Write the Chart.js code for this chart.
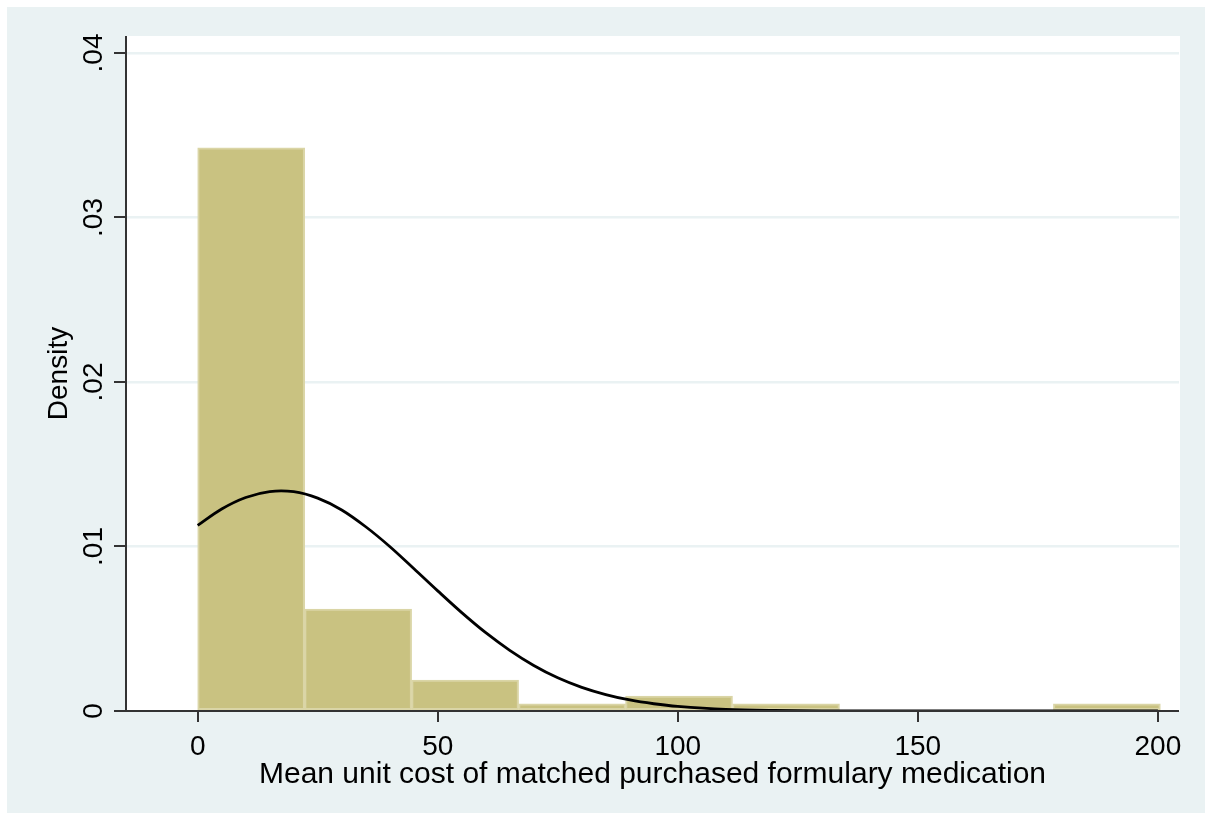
<!DOCTYPE html>
<html>
<head>
<meta charset="utf-8">
<script src="https://cdn.jsdelivr.net/npm/chart.js@4"></script>
<style>
  html, body { margin: 0; padding: 0; background: #ffffff; }
  canvas { display: block; }
</style>
</head>
<body>
<canvas id="c" width="1205" height="813"></canvas>
<script>
// ---- data ----
const binCenters = [11.14, 33.42, 55.70, 77.98, 100.26, 122.54, 144.82, 167.10, 189.38];
const densities  = [0.03423, 0.00620, 0.00188, 0.00043, 0.00091, 0.00043, 0, 0, 0.00043];

const curveX = [0, 5, 10, 15, 20, 25, 30, 35, 40, 45, 50, 55, 60, 65, 70, 75, 80, 85, 90, 95, 100, 110, 120, 130, 140, 160, 180, 200];
const curveY = [0.01128, 0.01228, 0.01298, 0.01334, 0.01333, 0.01294, 0.01222, 0.01120, 0.01000, 0.00866, 0.00730,
                0.00598, 0.00476, 0.00369, 0.00277, 0.00202, 0.00144, 0.00100, 0.00067, 0.00044, 0.00028,
                0.00010, 0.00003, 0.00001, 0, 0, 0, 0];

const xTicks = [0, 50, 100, 150, 200];
const xTickLabels = ['0', '50', '100', '150', '200'];
const yTicks = [0, 0.01, 0.02, 0.03, 0.04];
const yTickLabels = ['0', '.01', '.02', '.03', '.04'];

const xTitle = 'Mean unit cost of matched purchased formulary medication';
const yTitle = 'Density';

// ---- styling ----
const FONT = "'Liberation Sans', Arial, 'DejaVu Sans', sans-serif";
const OUTER_BG = '#EAF2F3';
const AXIS_COLOR = '#333333';

const decor = {
  id: 'decor',
  beforeDraw(chart) {
    const ctx = chart.ctx, a = chart.chartArea;
    ctx.save();
    ctx.fillStyle = '#ffffff';
    ctx.fillRect(0, 0, chart.width, chart.height);
    ctx.fillStyle = OUTER_BG;
    ctx.fillRect(7, 7, chart.width - 7, chart.height - 7);
    ctx.fillStyle = '#ffffff';
    ctx.fillRect(a.left, a.top, a.right - a.left + 1, a.bottom - a.top);
    ctx.restore();
  },
  afterDatasetsDraw(chart) {
    const ctx = chart.ctx, a = chart.chartArea;
    const xs = chart.scales.x, ys = chart.scales.y;
    ctx.save();
    ctx.strokeStyle = AXIS_COLOR;
    ctx.lineWidth = 2;
    ctx.beginPath();
    ctx.moveTo(a.left, a.top);
    ctx.lineTo(a.left, a.bottom + 1);
    ctx.moveTo(a.left - 1, a.bottom);
    ctx.lineTo(a.right, a.bottom);
    yTicks.forEach(v => {
      const y = Math.round(ys.getPixelForValue(v));
      ctx.moveTo(a.left - 12, y);
      ctx.lineTo(a.left, y);
    });
    xTicks.forEach(v => {
      const x = Math.round(xs.getPixelForValue(v));
      ctx.moveTo(x, a.bottom);
      ctx.lineTo(x, a.bottom + 11);
    });
    ctx.stroke();

    ctx.fillStyle = '#000000';
    ctx.font = '28px ' + FONT;
    ctx.textAlign = 'center';
    ctx.textBaseline = 'alphabetic';
    xTicks.forEach((v, i) => {
      ctx.fillText(xTickLabels[i], xs.getPixelForValue(v), 755);
    });
    ctx.font = '30px ' + FONT;
    ctx.fillText(xTitle, (a.left + a.right) / 2, 783);
    ctx.font = '28px ' + FONT;
    yTicks.forEach((v, i) => {
      const y = ys.getPixelForValue(v);
      ctx.save();
      ctx.translate(102, y);
      ctx.rotate(-Math.PI / 2);
      ctx.textAlign = 'center';
      ctx.fillText(yTickLabels[i], 0, 0);
      ctx.restore();
    });
    ctx.save();
    ctx.translate(67, (a.top + a.bottom) / 2);
    ctx.rotate(-Math.PI / 2);
    ctx.textAlign = 'center';
    ctx.fillText(yTitle, 0, 0);
    ctx.restore();
    ctx.restore();
  }
};

new Chart(document.getElementById('c'), {
  type: 'bar',
  data: {
    datasets: [
      {
        type: 'line',
        data: curveX.map((x, i) => ({ x: x, y: curveY[i] })),
        borderColor: '#000000',
        borderWidth: 2.8,
        pointRadius: 0,
        fill: false,
        tension: 0.35,
        order: 0
      },
      {
        type: 'bar',
        data: binCenters.map((x, i) => ({ x: x, y: densities[i] })),
        backgroundColor: '#C9C281',
        borderColor: '#DAD5A6',
        borderWidth: 2,
        borderSkipped: false,
        barPercentage: 1,
        categoryPercentage: 1,
        order: 1
      }
    ]
  },
  options: {
    responsive: false,
    animation: false,
    devicePixelRatio: 1,
    layout: { padding: { top: 36, right: 26, left: 0, bottom: 0 } },
    plugins: { legend: { display: false }, tooltip: { enabled: false } },
    scales: {
      x: {
        type: 'linear',
        min: -14.93,
        max: 204.4,
        offset: false,
        ticks: { display: false },
        grid: { display: false },
        border: { display: false },
        afterBuildTicks: s => { s.ticks = xTicks.map(v => ({ value: v })); },
        afterFit: s => { s.height = 102; }
      },
      y: {
        type: 'linear',
        min: 0,
        max: 0.04103,
        ticks: { display: false },
        grid: { color: OUTER_BG, lineWidth: 2.5, drawTicks: false },
        border: { display: false },
        afterBuildTicks: s => { s.ticks = yTicks.map(v => ({ value: v })); },
        afterFit: s => { s.width = 126; }
      }
    }
  },
  plugins: [decor]
});
</script>
</body>
</html>
